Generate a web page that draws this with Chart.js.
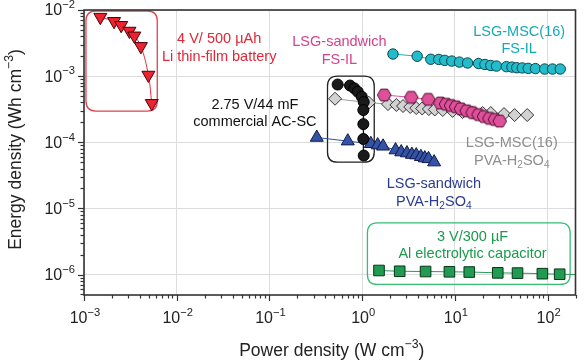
<!DOCTYPE html>
<html><head><meta charset="utf-8">
<script src="https://cdn.jsdelivr.net/npm/chart.js@4.4.1/dist/chart.umd.min.js"></script>
<style>html,body{margin:0;padding:0;background:#fff}canvas{display:block}</style>
</head><body><canvas id="c" width="584" height="362"></canvas>
<script>
const FONT = '"Liberation Sans", Arial, Helvetica, sans-serif';

// ---- data (power density W cm^-3, energy density Wh cm^-3) ----
const liBatteryPower  = [1.50e-3, 2.11e-3, 2.52e-3, 3.09e-3, 3.49e-3, 4.11e-3, 4.95e-3, 5.38e-3];
const liBatteryEnergy = [7.8e-3, 6.75e-3, 5.87e-3, 4.81e-3, 4.07e-3, 2.82e-3, 1.04e-3, 3.88e-4];

const acscPower  = [0.544, 0.74, 0.823, 0.897, 0.99, 1.04, 1.03, 1.03, 1.03, 1.04];
const acscEnergy = [7.46e-4, 7.21e-4, 6.54e-4, 5.81e-4, 4.88e-4, 4.06e-4, 3.07e-4, 1.88e-4, 1.12e-4, 6.29e-5];

const mscIlPower  = [2.15, 3.92, 5.5, 6.7, 7.78, 9.25, 11.2, 13.7, 18.0, 21.1, 24.4, 28.1, 35.9, 41.3, 46.5, 53.3, 61.8, 74, 92.9, 113, 137];
const mscIlEnergy = [2.16e-3, 2.0e-3, 1.8e-3, 1.79e-3, 1.73e-3, 1.69e-3, 1.63e-3, 1.58e-3, 1.55e-3, 1.50e-3, 1.45e-3, 1.42e-3, 1.39e-3, 1.37e-3, 1.34e-3, 1.33e-3, 1.31e-3, 1.30e-3, 1.28e-3, 1.28e-3, 1.28e-3];

const sandIlPower  = [1.73, 3.38, 5.17, 6.96, 8.03, 9.08, 10.3, 11.6, 13.4, 15.5, 18.0, 20.6, 23.6, 27.0, 30.4];
const sandIlEnergy = [5.18e-4, 4.78e-4, 4.46e-4, 3.92e-4, 3.76e-4, 3.59e-4, 3.44e-4, 3.20e-4, 2.99e-4, 2.81e-4, 2.62e-4, 2.45e-4, 2.30e-4, 2.21e-4, 2.09e-4];

const mscPvaPower  = [0.51, 1.18, 1.90, 2.34, 2.76, 3.30, 3.83, 4.44, 5.24, 6.07, 7.40, 9.46, 12.1, 15.5, 19.9, 24.4, 33.9, 44.1, 60.3];
const mscPvaEnergy = [4.55e-4, 3.96e-4, 3.78e-4, 3.66e-4, 3.53e-4, 3.41e-4, 3.29e-4, 3.24e-4, 3.18e-4, 3.13e-4, 3.07e-4, 2.97e-4, 2.86e-4, 2.81e-4, 2.77e-4, 2.77e-4, 2.67e-4, 2.58e-4, 2.58e-4];

const sandPvaPower  = [0.324, 0.70, 1.24, 1.47, 1.68, 2.29, 2.64, 3.04, 3.44, 3.83, 4.30, 4.74, 5.20, 5.97];
const sandPvaEnergy = [1.18e-4, 1.04e-4, 9.49e-5, 9.07e-5, 8.69e-5, 7.62e-5, 7.11e-5, 6.87e-5, 6.52e-5, 6.40e-5, 6.04e-5, 5.77e-5, 5.61e-5, 5.01e-5];

const alCapPower  = [1.52, 2.54, 4.83, 8.73, 14.3, 29.0, 47.4, 87.9, 135, 200];
const alCapEnergy = [1.15e-6, 1.12e-6, 1.11e-6, 1.10e-6, 1.09e-6, 1.06e-6, 1.05e-6, 1.03e-6, 1.01e-6, 1.0e-6];

// ---- axes ----
const xMin = 1e-3, xMax = 200;
const yMin = 4.9e-7, yMax = 1e-2;
const xTickExponents = [-3, -2, -1, 0, 1, 2];
const yTickExponents = [-6, -5, -4, -3, -2];
const xTitle = [['Power density (W cm', 0], ['−3', 1], [')', 0]];
const yTitle = [['Energy density (Wh cm', 0], ['−3', 1], [')', 0]];

// ---- annotations: [x, y] anchors in data units, lines as rich segments ----
const notes = [
  { at: [0.0287, 3.64e-3], color: '#e32636', lines: [[['4 V/ 500 µAh', 0]], [['Li thin-film battery', 0]]] },
  { at: [0.0697, 3.72e-4], color: '#111111', lines: [[['2.75 V/44 mF', 0]], [['commercial AC-SC', 0]]] },
  { at: [0.569, 3.24e-3], color: '#d6428f', lines: [[['LSG-sandwich', 0]], [['FS-IL', 0]]] },
  { at: [49.4, 4.70e-3], color: '#17a9b8', lines: [[['LSG-MSC(16)', 0]], [['FS-IL', 0]]] },
  { at: [41.1, 9.62e-5], color: '#8e8e8e', lines: [[['LSG-MSC(16)', 0]], [['PVA-H', 0], ['2', -1], ['SO', 0], ['4', -1]]] },
  { at: [5.93, 2.33e-5], color: '#2b3b8f', lines: [[['LSG-sandwich', 0]], [['PVA-H', 0], ['2', -1], ['SO', 0], ['4', -1]]] },
  { at: [15.5, 3.72e-6], color: '#1b9a4c', lines: [[['3 V/300 µF', 0]], [['Al electrolytic capacitor', 0]]] }
];
// rounded boxes: [xLeft, yTop, xRight, yBottom] in data units
const boxes = [
  { r: [1.05e-3, 9.66e-3, 6.17e-3, 2.96e-4], color: '#e0404e' },
  { r: [0.423, 1.0e-3, 1.35, 5.0e-5], color: '#222222' },
  { r: [1.14, 6.05e-6, 175, 7.08e-7], color: '#35bd74' }
];

function hexagon(fill, stroke) {
  const c = document.createElement('canvas');
  c.width = 16; c.height = 16;
  const g = c.getContext('2d');
  g.beginPath();
  for (let i = 0; i < 6; i++) {
    const a = Math.PI / 6 + i * Math.PI / 3 + Math.PI / 2;
    const px = 8 + 6.8 * Math.cos(a), py = 8 + 6.8 * Math.sin(a);
    i ? g.lineTo(px, py) : g.moveTo(px, py);
  }
  g.closePath();
  g.fillStyle = fill; g.fill();
  g.lineWidth = 1; g.strokeStyle = stroke; g.stroke();
  return c;
}

function pts(xs, ys) { return xs.map((x, i) => ({ x, y: ys[i] })); }

function drawRich(ctx, segs, cx, cy, size, color, align) {
  const small = size * 0.7;
  let w = 0;
  segs.forEach(([t, k]) => { ctx.font = (k ? small : size) + 'px ' + FONT; w += ctx.measureText(t).width; });
  let x = align === 'right' ? cx - w : align === 'left' ? cx : cx - w / 2;
  ctx.fillStyle = color; ctx.textBaseline = 'middle'; ctx.textAlign = 'left';
  segs.forEach(([t, k]) => {
    ctx.font = (k ? small : size) + 'px ' + FONT;
    const dy = k === 1 ? -size * 0.36 : k === -1 ? size * 0.28 : 0;
    ctx.fillText(t, x, cy + dy);
    x += ctx.measureText(t).width;
  });
}

function roundRect(ctx, x0, y0, x1, y1, r) {
  ctx.beginPath();
  ctx.moveTo(x0 + r, y0);
  ctx.lineTo(x1 - r, y0); ctx.quadraticCurveTo(x1, y0, x1, y0 + r);
  ctx.lineTo(x1, y1 - r); ctx.quadraticCurveTo(x1, y1, x1 - r, y1);
  ctx.lineTo(x0 + r, y1); ctx.quadraticCurveTo(x0, y1, x0, y1 - r);
  ctx.lineTo(x0, y0 + r); ctx.quadraticCurveTo(x0, y0, x0 + r, y0);
  ctx.closePath();
}

const decor = {
  id: 'decor',
  beforeDatasetsDraw(chart) {
    const ctx = chart.ctx, xs = chart.scales.x, ys = chart.scales.y;
    ctx.save();
    boxes.forEach(b => {
      const x0 = xs.getPixelForValue(b.r[0]), y0 = ys.getPixelForValue(b.r[1]);
      const x1 = xs.getPixelForValue(b.r[2]), y1 = ys.getPixelForValue(b.r[3]);
      roundRect(ctx, x0, y0, x1, y1, 10);
      ctx.lineWidth = 1.3; ctx.strokeStyle = b.color; ctx.stroke();
    });
    notes.forEach(n => {
      const cx = xs.getPixelForValue(n.at[0]), cy = ys.getPixelForValue(n.at[1]);
      n.lines.forEach((segs, i) => drawRich(ctx, segs, cx, cy + i * 17.6, 14.5, n.color, 'center'));
    });
    ctx.restore();
  },
  afterDraw(chart) {
    const ctx = chart.ctx, xs = chart.scales.x, ys = chart.scales.y, a = chart.chartArea;
    ctx.save();
    ctx.strokeStyle = '#333'; ctx.lineWidth = 1.2;
    for (let e = -3; e <= 2; e++) {
      for (let m = 1; m <= 9; m++) {
        const v = m * Math.pow(10, e);
        if (v < xMin * 0.999 || v > xMax * 1.001) continue;
        const px = Math.round(xs.getPixelForValue(v)) + 0.5;
        const len = m === 1 ? 6 : 3.5;
        ctx.beginPath(); ctx.moveTo(px, a.bottom); ctx.lineTo(px, a.bottom + len); ctx.stroke();
      }
    }
    for (let e = -7; e <= -2; e++) {
      for (let m = 1; m <= 9; m++) {
        const v = m * Math.pow(10, e);
        if (v < yMin * 0.999 || v > yMax * 1.001) continue;
        const py = Math.round(ys.getPixelForValue(v)) + 0.5;
        const len = m === 1 ? 6 : 3.5;
        ctx.beginPath(); ctx.moveTo(a.left, py); ctx.lineTo(a.left - len, py); ctx.stroke();
      }
    }
    ctx.lineWidth = 1.6; ctx.strokeStyle = '#333';
    ctx.strokeRect(a.left, a.top, a.right - a.left, a.bottom - a.top);
    xTickExponents.forEach(e => {
      const px = xs.getPixelForValue(Math.pow(10, e));
      drawRich(ctx, [['10', 0], [e < 0 ? '−' + (-e) : String(e), 1]], px + 1, a.bottom + 24, 16, '#222', 'center');
    });
    yTickExponents.forEach(e => {
      const py = ys.getPixelForValue(Math.pow(10, e));
      drawRich(ctx, [['10', 0], ['−' + (-e), 1]], a.left - 9, py + 1, 16, '#222', 'right');
    });
    drawRich(ctx, xTitle, (a.left + a.right) / 2 + 2, 351, 17.5, '#222', 'center');
    ctx.translate(16, (a.top + a.bottom) / 2 - 3);
    ctx.rotate(-Math.PI / 2);
    drawRich(ctx, yTitle, 0, 0, 17.5, '#222', 'center');
    ctx.restore();
  }
};

const decades = (lo, hi) => { const t = []; for (let e = lo; e <= hi; e++) t.push({ value: Math.pow(10, e) }); return t; };

new Chart(document.getElementById('c'), {
  type: 'scatter',
  data: {
    datasets: [
      { label: 'AC-SC', data: pts(acscPower, acscEnergy), showLine: true, borderColor: '#111', borderWidth: 1,
        pointStyle: 'circle', pointRadius: 5.5, pointBackgroundColor: '#1a1a1a', pointBorderColor: '#000', pointBorderWidth: 1 },
      { label: 'LSG-sandwich FS-IL', data: pts(sandIlPower, sandIlEnergy), showLine: true, borderColor: '#e0509a', borderWidth: 1,
        pointStyle: hexagon('#e0509a', '#4a1030'), pointRadius: 7 },
      { label: 'LSG-MSC(16) PVA', data: pts(mscPvaPower, mscPvaEnergy), showLine: true, borderColor: '#9a9a9a', borderWidth: 1,
        pointStyle: 'rectRot', pointRadius: 6.5, pointBackgroundColor: '#d2d2d2', pointBorderColor: '#333', pointBorderWidth: 1 },
      { label: 'LSG-sandwich PVA', data: pts(sandPvaPower, sandPvaEnergy), showLine: true, borderColor: '#3050a0', borderWidth: 1,
        pointStyle: 'triangle', pointRadius: 7.5, pointBackgroundColor: '#3452a6', pointBorderColor: '#101c48', pointBorderWidth: 1 },
      { label: 'LSG-MSC(16) FS-IL', data: pts(mscIlPower, mscIlEnergy), showLine: true, borderColor: '#1fb0c0', borderWidth: 1,
        pointStyle: 'circle', pointRadius: 5.2, pointBackgroundColor: '#22bccb', pointBorderColor: '#0b4650', pointBorderWidth: 1 },
      { label: 'Li battery', data: pts(liBatteryPower, liBatteryEnergy), showLine: true, borderColor: '#e0303e', borderWidth: 1, tension: 0.4,
        pointStyle: 'triangle', pointRotation: 180, pointRadius: 7.5, pointBackgroundColor: '#ea2430', pointBorderColor: '#4a0008', pointBorderWidth: 1 },
      { label: 'Al cap', data: pts(alCapPower, alCapEnergy), showLine: true, borderColor: '#2a9a5a', borderWidth: 1,
        pointStyle: 'rect', pointRadius: alCapPower.map((_, i) => i === alCapPower.length - 1 ? 0 : 7.5), pointBackgroundColor: '#1f9b52', pointBorderColor: '#0a3418', pointBorderWidth: 1 }
    ]
  },
  options: {
    responsive: false, devicePixelRatio: 1, animation: false,
    layout: { padding: { left: 84, top: 10, right: 6, bottom: 67 } },
    plugins: { legend: { display: false }, tooltip: { enabled: false } },
    scales: {
      x: { type: 'logarithmic', min: xMin, max: xMax,
        afterBuildTicks: s => { s.ticks = decades(-3, 2); },
        afterFit: s => { s.height = 0; },
        ticks: { display: false }, border: { display: false },
        grid: { color: '#dcdcdc', lineWidth: 1, drawTicks: false } },
      y: { type: 'logarithmic', min: yMin, max: yMax,
        afterBuildTicks: s => { s.ticks = decades(-6, -2); },
        afterFit: s => { s.width = 0; },
        ticks: { display: false }, border: { display: false },
        grid: { color: '#dcdcdc', lineWidth: 1, drawTicks: false } }
    }
  },
  plugins: [decor]
});
</script>
</body></html>
